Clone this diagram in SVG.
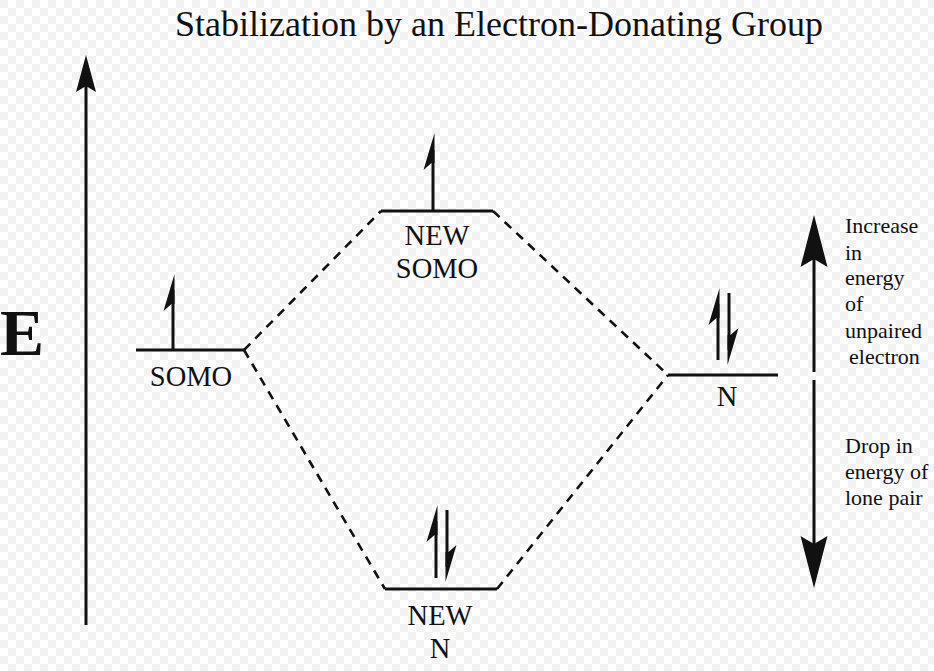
<svg xmlns="http://www.w3.org/2000/svg" width="934" height="671" viewBox="0 0 934 671">
<style>
.t{font-family:"Liberation Serif","Times New Roman",serif;fill:#111}
.lb{font-size:28.5px}
.side{font-size:22px}
.lvl{stroke:#111;stroke-width:3;fill:none}
.sh{stroke:#111;stroke-width:3;fill:none}
.dash{stroke:#111;stroke-width:2.6;fill:none;stroke-dasharray:9 7}
.ax{stroke:#111;stroke-width:3;fill:none}
.hd{fill:#111}
</style>
<defs>
<pattern id="chk" width="16" height="16" patternUnits="userSpaceOnUse">
<rect width="16" height="16" fill="#ffffff"/>
<rect width="8" height="8" fill="#f2f2f2"/>
<rect x="8" y="8" width="8" height="8" fill="#f2f2f2"/>
</pattern>
<path id="hup" d="M1.5,0 L-9.5,37 L-1.5,30 L1.5,30 Z"/>
<path id="hdn" d="M-1.5,0 L9.5,-37 L1.5,-30 L-1.5,-30 Z"/>
<path id="ahs" d="M0,0 L10,37 L0,31 L-10,37 Z"/>
<path id="ahb" d="M0,0 L13.5,52 L0,44 L-13.5,52 Z"/>
</defs>
<rect width="934" height="671" fill="url(#chk)"/>

<text class="t" x="499" y="36" font-size="36" text-anchor="middle">Stabilization by an Electron-Donating Group</text>

<g id="energy-axis">
<line class="ax" x1="86" y1="625" x2="86" y2="80"/>
<use href="#ahs" class="hd" transform="translate(86,55)"/>
<text class="t" x="22" y="355" font-size="66" font-weight="bold" text-anchor="middle">E</text>
</g>

<g id="connectors">
<line class="dash" x1="244" y1="350" x2="381" y2="211"/>
<line class="dash" x1="244" y1="350" x2="385" y2="589"/>
<line class="dash" x1="493" y1="211" x2="668" y2="375"/>
<line class="dash" x1="497" y1="589" x2="668" y2="375"/>
</g>

<g id="somo">
<line class="lvl" x1="136" y1="350" x2="244" y2="350"/>
<line class="sh" x1="173" y1="350" x2="173" y2="290"/>
<use href="#hup" class="hd" transform="translate(173,274)"/>
<text class="t lb" x="191" y="386" text-anchor="middle">SOMO</text>
</g>

<g id="new-somo">
<line class="lvl" x1="381" y1="211" x2="493" y2="211"/>
<line class="sh" x1="433" y1="211" x2="433" y2="150"/>
<use href="#hup" class="hd" transform="translate(433,133)"/>
<text class="t lb" x="437" y="245" text-anchor="middle">NEW</text>
<text class="t lb" x="437" y="278" text-anchor="middle">SOMO</text>
</g>

<g id="n">
<line class="lvl" x1="668" y1="375" x2="778" y2="375"/>
<line class="sh" x1="718" y1="360" x2="718" y2="304"/>
<use href="#hup" class="hd" transform="translate(718,288)"/>
<line class="sh" x1="729" y1="293" x2="729" y2="350"/>
<use href="#hdn" class="hd" transform="translate(729,365)"/>
<text class="t lb" x="727" y="406" text-anchor="middle">N</text>
</g>

<g id="new-n">
<line class="lvl" x1="385" y1="589" x2="497" y2="589"/>
<line class="sh" x1="436" y1="578" x2="436" y2="521"/>
<use href="#hup" class="hd" transform="translate(436,505)"/>
<line class="sh" x1="447" y1="510" x2="447" y2="567"/>
<use href="#hdn" class="hd" transform="translate(447,582)"/>
<text class="t lb" x="440" y="625" text-anchor="middle">NEW</text>
<text class="t lb" x="440" y="658" text-anchor="middle">N</text>
</g>

<g id="energy-change">
<line class="ax" x1="814" y1="372" x2="814" y2="250"/>
<use href="#ahb" class="hd" transform="translate(814,215)"/>
<line class="ax" x1="814" y1="380" x2="814" y2="555"/>
<use href="#ahb" class="hd" transform="translate(814,588) rotate(180)"/>
<text class="t side">
<tspan x="845" y="233">Increase</tspan>
<tspan x="845" y="260">in</tspan>
<tspan x="845" y="285">energy</tspan>
<tspan x="845" y="311">of</tspan>
<tspan x="845" y="338">unpaired</tspan>
<tspan x="849" y="364">electron</tspan>
</text>
<text class="t side">
<tspan x="845" y="453">Drop in</tspan>
<tspan x="845" y="479">energy of</tspan>
<tspan x="845" y="505">lone pair</tspan>
</text>
</g>
</svg>
